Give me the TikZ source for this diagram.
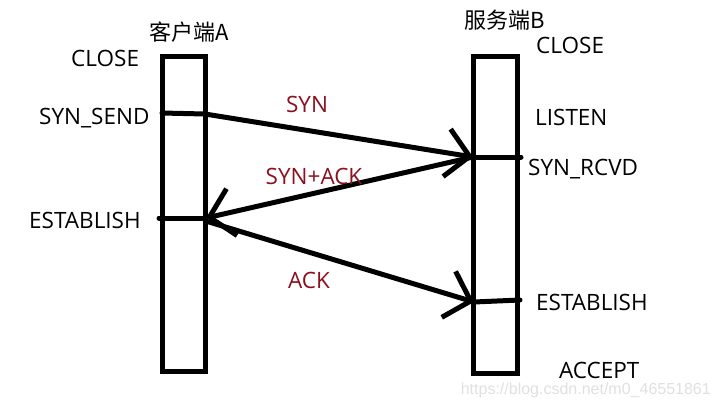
\documentclass[tikz,border=0pt]{standalone}
\usepackage{fontspec}
\setmainfont{Open Sans}
\newfontfamily\cjk{Noto Sans CJK SC}
\newfontfamily\wmfont{Liberation Sans}
\usetikzlibrary{arrows.meta}
\definecolor{msgred}{HTML}{8B1020}

\begin{document}
\begin{tikzpicture}[
  x=1pt, y=-1pt,
  every node/.style={font=\fontsize{22.5}{26}\selectfont, inner sep=0pt},
  hostbox/.style={rectangle, draw=black, line width=5pt},
  tick/.style={line width=5pt, line cap=round},
  msg/.style={line width=5pt, line cap=round, -{Straight Barb[length=23pt, width=48pt, line width=5pt]}},
  msglbl/.style={text=msgred},
  state/.style={anchor=west, text height=16pt, text depth=0pt},
]
\useasboundingbox (0,0) rectangle (720,408);
% the two hosts
\node[hostbox, minimum width=43pt, minimum height=315pt] (hostA) at (183.5,213.5) {};
\node[hostbox, minimum width=44pt, minimum height=317pt] (hostB) at (495,214.5) {};
\node (nameA) at (189,32) {\cjk\fontsize{22}{26}\selectfont 客户端A};
\node (nameB) at (505,20) {\cjk\fontsize{22}{26}\selectfont 服务端B};

% states of A
\node[state] (aClose) at (71,58) {CLOSE};
\node[state] (aSend) at (39,116) {SYN\_SEND};
\node[state] (aEst) at (29,220) {ESTABLISH};
% states of B
\node[state] (bClose) at (536,45) {CLOSE};
\node[state] (bListen) at (535,117) {LISTEN};
\node[state] (bRcvd) at (528,167) {SYN\_RCVD};
\node[state] (bEst) at (536,302) {ESTABLISH};
\node[state] (bAccept) at (559,370) {ACCEPT};

% points on the time lines
\coordinate (sendL) at (162,113);
\coordinate (sendR) at (205,114);
\coordinate (rcvdL) at (473,157);
\coordinate (rcvdR) at (521,157);
\coordinate (estAL) at (159,218);
\coordinate (estAR) at (206,218);
\coordinate (ackA) at (209,222);
\coordinate (estBL) at (474,302);
\coordinate (estBR) at (520,300);

\draw[tick] (sendL) -- (sendR);
\draw[tick] (rcvdL) -- (rcvdR);
\draw[tick] (estAL) -- (estAR);
\draw[tick] (estBL) -- (estBR);

% messages
\draw[msg] (sendR) -- (rcvdL);
\draw[msg] (rcvdL) -- (estAR);
\draw[msg] (ackA) -- (estBL);
\node[msglbl] (synLbl) at (307,104) {SYN};
\node[msglbl] (synackLbl) at (314,176) {SYN+ACK};
\node[msglbl] (ackLbl) at (309,280) {ACK};

\node[anchor=east, text=black!12, font=\wmfont\fontsize{16}{19}\selectfont] (mark) at (711,390) {https://blog.csdn.net/m0\_46551861};
\end{tikzpicture}
\end{document}
